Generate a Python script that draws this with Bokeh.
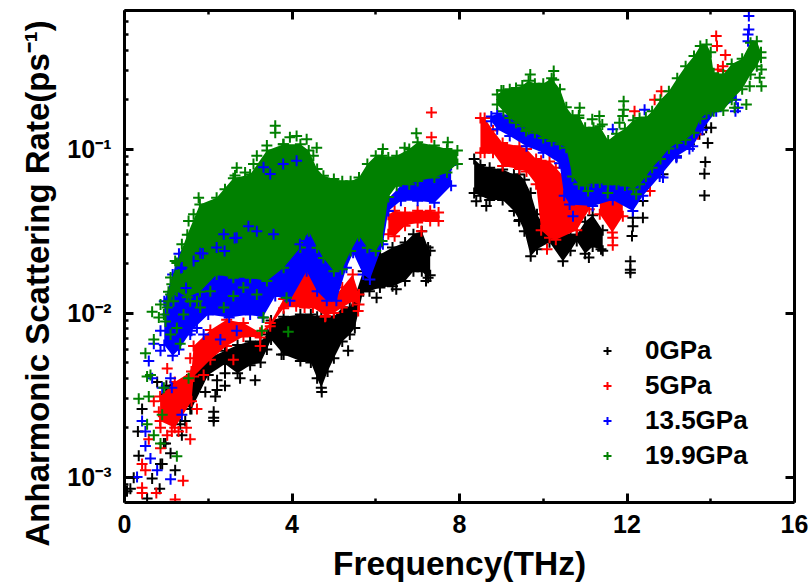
from bokeh.plotting import figure
from bokeh.embed import file_html
from bokeh.resources import INLINE
from bokeh.models import (Range1d, FixedTicker, LinearAxis, LogAxis, Legend, LegendItem, Title)

# Values. The dense part of each cloud is kept as
# (frequency, lower rate, upper rate) and drawn as a filled band with crosses on its edges;
# isolated crosses are listed separately.
x_ticks = [0, 4, 8, 12, 16]
x_minor = [2, 6, 10, 14]
y_ticks = [0.001, 0.01, 0.1]
y_minor = [0.0008, 0.0009, 0.002, 0.003, 0.004, 0.005, 0.006, 0.007, 0.008, 0.009,
           0.02, 0.03, 0.04, 0.05, 0.06, 0.07, 0.08, 0.09, 0.2, 0.3, 0.4, 0.5, 0.6, 0.7]
x_labels = ["0", "4", "8", "12", "16"]
y_labels = ["10\u207b\u00b3", "10\u207b\u00b2", "10\u207b\u00b9"]
series_names = ["0GPa", "5GPa", "13.5GPa", "19.9GPa"]

black_left = [(1.0,.0032,.0036),(1.6,.0026,.0042),(2.0,.0042,.0053),(2.4,.0049,.0059),(2.7,.0043,.0064),
 (3.0,.0048,.0067),(3.25,.005,.0067),(3.4,.006,.0074),(3.5,.0069,.009),(3.8,.0056,.0095),(4.2,.0051,.0098),
 (4.45,.005,.0098),(4.6,.004,.0095),(4.7,.0035,.0095),(4.85,.0044,.0095),(5.0,.0053,.0095),(5.2,.0067,.0108),
 (5.38,.0074,.0108),(5.5,.0081,.0126),(5.7,.0136,.018),(5.85,.0136,.0208),(6.1,.0143,.0228),(6.4,.0146,.0251),
 (6.7,.0157,.0269),(6.9,.018,.0302),(7.1,.018,.0316),(7.25,.0164,.0251),(7.3,.017,.024)]
black_right = [(8.35,.054,.087),(8.5,.052,.08),(8.72,.049,.077),(9.03,.049,.075),(9.3,.042,.07),(9.43,.037,.07),
 (9.55,.0316,.065),(9.7,.0222,.054),(9.85,.0245,.04),(10.15,.027,.03),(10.47,.0207,.03),(10.65,.024,.03),
 (10.8,.0275,.03),(11.0,.023,.036),(11.18,.0255,.0395),(11.42,.024,.032)]
black_pts = [(2.4,.0043),(2.4,.0036),(2.21,.0039),(2.21,.0034),(2.17,.0031),(2.13,.0025),(2.13,.0023),(2.13,.0022),
 (1.93,.0033),(3.12,.0039),(2.76,.004),(1.57,.0026),(1.45,.0022),(1.33,.0021),(1.37,.0018),(.98,.0016),(1.1,.0014),
 (1.21,.0011),(.86,.0012),(.9,.0012),(.66,.00098),(.84,.00085),(.54,.00074),(.14,.00085),(.22,.00099),(.06,.00082),
 (.34,.00135),(.32,.0019),(.42,.0026),(.78,.0038),(.94,.0016),(5.34,.0059),(3.75,.0056),(4.71,.0033),(6.02,.0124),
 (6.49,.014),(7.2,.0157),(12.14,.0382),(12.14,.0339),(12.12,.0295),(12.08,.0207),(12.08,.0184),(12.08,.0176),
 (12.38,.0482),(12.38,.0381),(12.86,.0702),(13.18,.0906),(13.49,.107),(13.89,.135),(13.93,.109),(13.87,.0833),
 (13.85,.0707),(13.85,.0522),(14.01,.135),(8.4,.048),(8.64,.045),(9.42,.0364),(11.09,.0218),(11.38,.0245),
 (13.73,.123),(13.57,.117)]

red_left = [(.85,.0022,.0031),(1.2,.002,.0038),(1.6,.0029,.0044),(1.65,.0041,.0063),(2.05,.0052,.0079),(2.44,.0063,.0091),(2.84,.0072,.0087),(3.24,.0071,.0076),
 (3.48,.0083,.0087),(3.8,.0107,.0122),(4.1,.011,.0143),(4.3,.0108,.0185),(4.5,.0108,.0164),
 (4.8,.0096,.0124),(5.0,.01,.0124),(5.2,.0108,.0143),(5.45,.0118,.0172),(5.6,.0113,.013)]
red_mid = [(6.3,.0302,.0398),(6.45,.0294,.0421),(6.7,.0341,.041),(7.0,.0357,.0421),(7.3,.0365,.0421),(7.5,.0365,.041)]
red_right = [(8.5,.095,.155),(8.6,.095,.155),(8.8,.095,.13),(9.03,.079,.109),(9.43,.0755,.104),(9.6,.073,.1),
 (9.83,.061,.087),(9.95,.032,.085),(10.15,.0288,.084),(10.3,.028,.077),(10.8,.032,.055),(11.1,.043,.05)]
red_far = [(11.35,.04,.05),(11.65,.031,.05),(11.9,.039,.05)]
red_pts = [(7.33,.167),(7.33,.118),(7.09,.0316),(5.58,.0103),(4.79,.0095),(3.24,.0063),(2.6,.0052),(1.89,.0042),
 (1.73,.0026),(1.57,.0017),(1.48,.002),(1.29,.0019),(.86,.0015),(.58,.0017),(.42,.0012),(.5,.0011),(1.4,.00095),
 (1.21,.00073),(.42,.00086),(.42,.0008),(.76,.0008),(.86,.002),(1.02,.0018),(.7,.0029),(.82,.0025),(1.06,.0023),
 (1.13,.0019),(1.02,.0046),(2.05,.0074),(1.81,.0061),(1.57,.0053),(2.13,.0172),(2.29,.0074),(14.13,.49),(14.15,.425),
 (14.35,.375),(14.17,.306),(14.29,.32),(14.29,.299),(11.66,.0288),(11.66,.0259),(10.09,.0245),(12.55,.0555),
 (12.18,.17),(12.66,.2),(12.82,.225),(13.57,.117),(13.69,.123)]

blue_left = [(.95,.0064,.0118),(1.15,.0055,.0172),(1.3,.006,.023),(1.6,.0078,.03),(2.0,.0098,.03),(2.5,.0094,.03),(3.0,.0098,.03),(3.3,.0094,.03),
 (3.6,.0127,.03),(3.95,.0119,.03),(4.35,.018,.05),(4.6,.0136,.05),(4.83,.0119,.05),(5.06,.0119,.05),(5.3,.0189,.05),
 (5.46,.0233,.05),(5.7,.0172,.05),(5.86,.016,.05),(6.17,.0263,.05),(6.3,.042,.05),(6.6,.0484,.06),(7.0,.0484,.07),
 (7.4,.047,.07),(7.8,.0597,.08)]
blue_right = [(8.76,.148,.158),(8.9,.132,.165),(9.2,.12,.16),(9.6,.104,.15),(10.0,.095,.13),(10.39,.082,.12),
 (10.5,.052,.11),(10.63,.046,.1),(11.18,.045,.08),(11.66,.049,.08),(12.14,.042,.08),(12.38,.052,.09),(12.78,.068,.12),
 (13.18,.09,.2),(13.57,.104,.3),(13.8,.131,.3),(14.13,.17,.25),(14.6,.2,.25)]
blue_pts = [(.42,.0022),(.5,.0019),(.5,.00155),(.62,.0013),(.78,.0011),(1.1,.00097),(.3,.001),(1.37,.0024),(.58,.0051),
 (.7,.0065),(.86,.0078),(1.17,.007),(.86,.0059),(.66,.004),(1.1,.004),(.9,.0035),(1.13,.0035),(1.33,.019),(1.25,.013),
 (1.02,.0098),(1.17,.0085),(1.49,.0118),(2.68,.0078),(2.29,.0069),(3.32,.0775),(3.79,.081),(4.11,.085),(2.84,.061),
 (2.52,.051),(1.57,.0074),(1.73,.0081),(1.89,.0074),(14.91,.647),(14.91,.537),(14.89,.5),(14.89,.455),(14.59,.17),
 (14.65,.179),(11.66,.132),(12.42,.174),(10.71,.039),(12.86,.067),(13.18,.0885),(13.49,.1)]
blue_seen_through_green = [(1.87,.0231),(1.35,.0186),(1.47,.0142),(2.63,.0287),(2.39,.0239),(1.81,.0232),(2.37,.0302),(2.96,.0339),(3.16,.0316),
 (3.56,.0302),(2.68,.0288),(2.2,.0251),(1.65,.0208),(1.37,.019),(3.48,.0706),(3.32,.0775),(3.79,.081),(4.11,.085),(4.19,.0263),(4.35,.0275)]

green_left = [(1.05,.0118,.0135),(1.25,.0136,.0202),(1.5,.0125,.03),(1.8,.0135,.046),(2.2,.0172,.0505),(2.6,.0164,.0665),(3.0,.0164,.07),(3.4,.0157,.098),
 (3.8,.0189,.107),(4.2,.0251,.107),(4.4,.0316,.098),(4.6,.025,.0755),(4.75,.0217,.0687),(5.0,.018,.0656),(5.2,.0185,.0637),
 (5.4,.0239,.0637),(5.6,.0295,.067),(5.8,.025,.081),(6.0,.0239,.091),(6.15,.0275,.091),(6.3,.051,.089),(6.5,.0597,.091),
 (6.8,.061,.1),(7.0,.064,.11),(7.4,.067,.105),(7.7,.072,.1),(7.95,.081,.098)]
green_right = [(8.9,.187,.215),(9.05,.17,.228),(9.2,.155,.232),(9.35,.145,.236),(9.5,.138,.244),(9.65,.132,.261),(9.8,.126,.25),
 (10.0,.117,.25),(10.2,.112,.27),(10.4,.107,.232),(10.55,.102,.18),(10.7,.068,.16),(10.85,.061,.16),(11.0,.06,.135),
 (11.2,.0625,.135),(11.35,.0625,.138),(11.55,.061,.113),(11.75,.061,.124),(11.95,.06,.133),(12.15,.057,.15),(12.3,.061,.155),
 (12.45,.068,.156),(12.6,.077,.17),(12.8,.087,.2),(13.0,.101,.225),(13.2,.109,.27),(13.4,.114,.32),(13.6,.126,.37),
 (13.75,.153,.425),(13.9,.165,.435),(14.0,.17,.39),(14.07,.17,.29),(14.3,.172,.285),(14.5,.2,.33),(14.75,.232,.355),
 (14.95,.285,.445),(15.1,.32,.455),(15.2,.36,.39)]
green_pts = [(3.6,.139),(3.6,.126),(3.4,.105),(3.16,.091),(3.08,.081),(4.11,.12),(4.35,.115),(4.59,.102),(3.95,.118),(3.79,.107),
 (4.51,.091),(2.68,.077),(2.88,.072),(2.64,.069),(2.4,.057),(1.77,.0505),(1.65,.04),(1.53,.0365),(1.37,.0263),(1.21,.0208),
 (1.1,.0165),(1.13,.015),(.86,.0113),(.66,.0102),(1.02,.0108),(.98,.0089),(.7,.0069),(.5,.0057),(.54,.0041),(.62,.0042),
 (.34,.003),(.58,.0031),(.94,.0035),(.9,.0024),(.54,.0021),(.7,.0018),(.86,.0016),(1.25,.00134),(3.91,.0077),(1.53,.004),
 (1.33,.0065),(1.81,.0108),(2.05,.0136),(2.37,.0108),(2.6,.0127),(2.84,.0143),(3.16,.013),(3.87,.0124),(3.32,.0094),(3.28,.0078),
 (6.97,.125),(6.17,.1),(6.69,.102),(7.72,.11),(1.25,.0081),(1.1,.0074),(1.41,.0098),(1.57,.0118),(1.1,.013),(1.73,.015),(2.05,.0172),
 (2.44,.019),(3.0,.019),(3.48,.018),(1.29,.0172),(1.49,.0208),(.94,.0098),(.82,.0094),(1.17,.0118),(1.73,.0118),
 (9.0,.228),(9.69,.285),(10.25,.299),(10.25,.265),(10.87,.179),(10.85,.155),(11.17,.152),(11.34,.159),(11.41,.141),(11.92,.196),
 (11.92,.174),(11.9,.159),(11.82,.145),(9.59,.129),(11.07,.0555),(11.54,.054),(12.22,.053),(15.21,.306),(15.17,.272),(15.21,.242),
 (14.57,.179),(14.85,.187),(14.93,.242)]

p = figure(width=817, height=592, output_backend="svg", toolbar_location=None, y_axis_type="log",
           x_range=Range1d(0, 16), y_range=Range1d(0.0007, 0.7),
           min_border_left=132, min_border_right=15, min_border_top=18, min_border_bottom=82)
p.margin = (-8, -8, -8, -8)
p.grid.visible = False
p.outline_line_color = None
p.background_fill_color = None


def crosses(color, pts):
    return p.scatter([q[0] for q in pts], [q[1] for q in pts], marker="cross", size=11, line_width=2, line_color=color)


def draw(color, bands):
    main = None
    for band in bands:
        f = [b[0] for b in band]
        lo = [b[1] for b in band]
        hi = [b[2] for b in band]
        p.varea(f, lo, hi, fill_color=color)
        main = p.scatter(f + f, lo + hi, marker="cross", size=11, line_width=2, line_color=color)
    return main


r0 = draw("#000000", [black_left, black_right])
crosses("#000000", black_pts)
r1 = draw("#ff0000", [red_left, red_mid, red_right, red_far])
crosses("#ff0000", red_pts)
r2 = draw("#0000ff", [blue_left, blue_right])
crosses("#0000ff", blue_pts)
r3 = draw("#008000", [green_left, green_right])
crosses("#0000ff", blue_seen_through_green)
crosses("#008000", green_pts)

FONT = "Liberation Sans"


def style(ax):
    ax.axis_line_width = 3
    ax.axis_line_color = "black"
    ax.major_tick_line_width = 3
    ax.minor_tick_line_width = 2.5
    ax.major_tick_in = 9
    ax.major_tick_out = 0
    ax.minor_tick_in = 4
    ax.minor_tick_out = 0
    ax.major_label_text_font = FONT
    ax.major_label_text_font_style = "bold"
    ax.major_label_text_font_size = "25px"
    ax.major_label_text_color = "black"
    ax.axis_label_text_font = FONT
    ax.axis_label_text_font_style = "bold"
    ax.axis_label_text_color = "black"


xt = FixedTicker(ticks=x_ticks, minor_ticks=x_minor)
yt = FixedTicker(ticks=y_ticks, minor_ticks=y_minor)
bx = p.xaxis[0]
bx.ticker = xt
style(bx)
bx.major_label_standoff = 12
bx.axis_label = "Frequency(THz)"
bx.axis_label_text_font_size = "33.5px"
bx.axis_label_standoff = 9
bx.major_label_overrides = {t: s for t, s in zip(x_ticks, x_labels)}

blank_y = {t: "" for t in y_ticks}
blank_x = {t: "" for t in x_ticks}
ly = p.yaxis[0]
ly.ticker = yt
style(ly)
ly.major_label_overrides = {t: s for t, s in zip(y_ticks, y_labels)}
ly.major_label_standoff = 13
ty = LinearAxis(ticker=xt)
style(ty)
ty.major_label_overrides = blank_x
ty.major_label_standoff = 0
p.add_layout(ty, "above")
ry = LogAxis(ticker=FixedTicker(ticks=y_ticks))
style(ry)
ry.major_label_overrides = blank_y
ry.major_label_standoff = 0
p.add_layout(ry, "right")

y_title = Title(text="Anharmonic Scattering Rate(ps\u207b\u00b9)", align="left", offset=-44, standoff=17,
                text_font=FONT, text_font_style="bold", text_font_size="33px", text_color="black")
p.add_layout(y_title, "left")

legend = Legend(items=[LegendItem(label=n, renderers=[r]) for n, r in zip(series_names, [r0, r1, r2, r3])],
                location=(473, 31), border_line_color=None, background_fill_color=None, background_fill_alpha=0,
                label_text_font=FONT, label_text_font_style="bold", label_text_font_size="26px", label_text_color="black",
                spacing=4, glyph_width=20, glyph_height=29, label_height=29, label_standoff=28, padding=0, margin=0)
p.add_layout(legend, "center")

open("out.html", "w").write(file_html(p, INLINE))
